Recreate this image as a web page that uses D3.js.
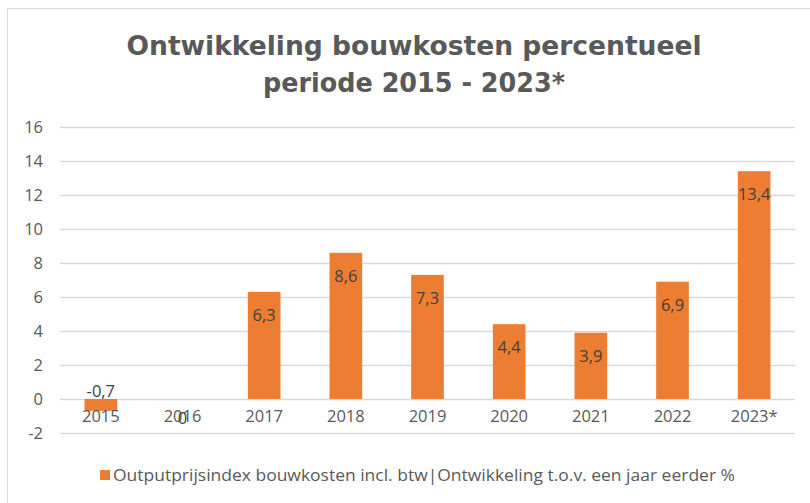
<!DOCTYPE html>
<html>
<head>
<meta charset="utf-8">
<script src="https://cdn.jsdelivr.net/npm/d3@7"></script>
<style>
  body { margin: 0; background: #fff; }
  svg { display: block; }
</style>
</head>
<body>
<div id="chart"></div>
<script>
    // data
    var years = ["2015", "2016", "2017", "2018", "2019", "2020", "2021", "2022", "2023*"];
    var values = [-0.7, 0, 6.3, 8.6, 7.3, 4.4, 3.9, 6.9, 13.4];
    var yTicks = [-2, 0, 2, 4, 6, 8, 10, 12, 14, 16];
    var titleLines = ["Ontwikkeling bouwkosten percentueel", "periode 2015 - 2023*"];
    var legendLabel = "Outputprijsindex bouwkosten incl. btw|Ontwikkeling t.o.v. een jaar eerder %";

    var width = 810, height = 503;
    var orange = "#ED7D31", grey = "#595959";

    var svg = d3.select("#chart").append("svg")
        .attr("width", width)
        .attr("height", height);

    // outer chart frame (only top and left edges fall inside the picture)
    svg.append("rect")
        .attr("x", 7.5).attr("y", 8.5)
        .attr("width", 820).attr("height", 510)
        .attr("fill", "none")
        .attr("stroke", "#d9d9d9");

    var x = d3.scaleBand()
        .domain(years)
        .range([60, 795])
        .paddingInner(0.6)
        .paddingOuter(0.3);

    var y = d3.scaleLinear()
        .domain([-2, 16])
        .range([433, 127]);

    // gridlines + y labels
    var yAxis = d3.axisLeft(y)
        .tickValues(yTicks)
        .tickSize(-(795 - 60))
        .tickPadding(17)
        .tickFormat(function(d) { return String(d); });

    var gy = svg.append("g")
        .attr("transform", "translate(60,0)")
        .call(yAxis);
    gy.select(".domain").remove();
    gy.selectAll(".tick line").attr("stroke", "#d9d9d9").attr("stroke-width", 1.3);
    gy.selectAll(".tick text")
        .attr("fill", grey)
        .style("font-family", "'Open Sans', sans-serif")
        .style("font-size", "16.5px");

    // bars
    svg.selectAll("rect.bar")
        .data(values)
        .enter()
        .append("rect")
        .attr("class", "bar")
        .attr("x", function(d, i) { return x(years[i]); })
        .attr("width", x.bandwidth())
        .attr("y", function(d) { return y(Math.max(0, d)); })
        .attr("height", function(d) { return Math.abs(y(d) - y(0)); })
        .attr("fill", orange);

    // category labels, sitting just under the zero line
    var gx = svg.append("g")
        .attr("transform", "translate(0," + y(0) + ")")
        .call(d3.axisBottom(x).tickSize(0).tickPadding(11));
    gx.select(".domain").remove();
    gx.selectAll(".tick text")
        .attr("fill", grey)
        .style("font-family", "'Open Sans', sans-serif")
        .style("font-size", "16.5px");

    // value labels (inside end)
    svg.selectAll("text.val")
        .data(values)
        .enter()
        .append("text")
        .attr("class", "val")
        .attr("x", function(d, i) { return x(years[i]) + x.bandwidth() / 2; })
        .attr("y", function(d) {
            if (d < 0) return y(d) - 14;
            if (d === 0) return y(d) + 25;
            return y(d) + 29;
        })
        .attr("text-anchor", "middle")
        .attr("fill", "#404040")
        .style("font-family", "'Open Sans', sans-serif")
        .style("font-size", "16.5px")
        .text(function(d) { return String(d).replace(".", ","); });

    // title
    var titleWidths = [575, 302];
    svg.selectAll("text.title")
        .data(titleLines)
        .enter()
        .append("text")
        .attr("class", "title")
        .attr("x", 414)
        .attr("y", function(d, i) { return 55 + i * 37; })
        .attr("text-anchor", "middle")
        .attr("fill", grey)
        .attr("textLength", function(d, i) { return titleWidths[i]; })
        .attr("lengthAdjust", "spacingAndGlyphs")
        .style("font-family", "'DejaVu Sans', sans-serif")
        .style("font-weight", "bold")
        .style("font-size", "27px")
        .text(function(d) { return d; });

    // legend
    var legend = svg.append("g").attr("transform", "translate(100,470)");
    legend.append("rect")
        .attr("width", 10).attr("height", 10)
        .attr("fill", orange);
    legend.append("text")
        .attr("x", 13).attr("y", 11)
        .attr("fill", grey)
        .attr("textLength", 622)
        .attr("lengthAdjust", "spacingAndGlyphs")
        .style("font-family", "'Open Sans', sans-serif")
        .style("font-size", "16px")
        .text(legendLabel);
</script>
</body>
</html>
